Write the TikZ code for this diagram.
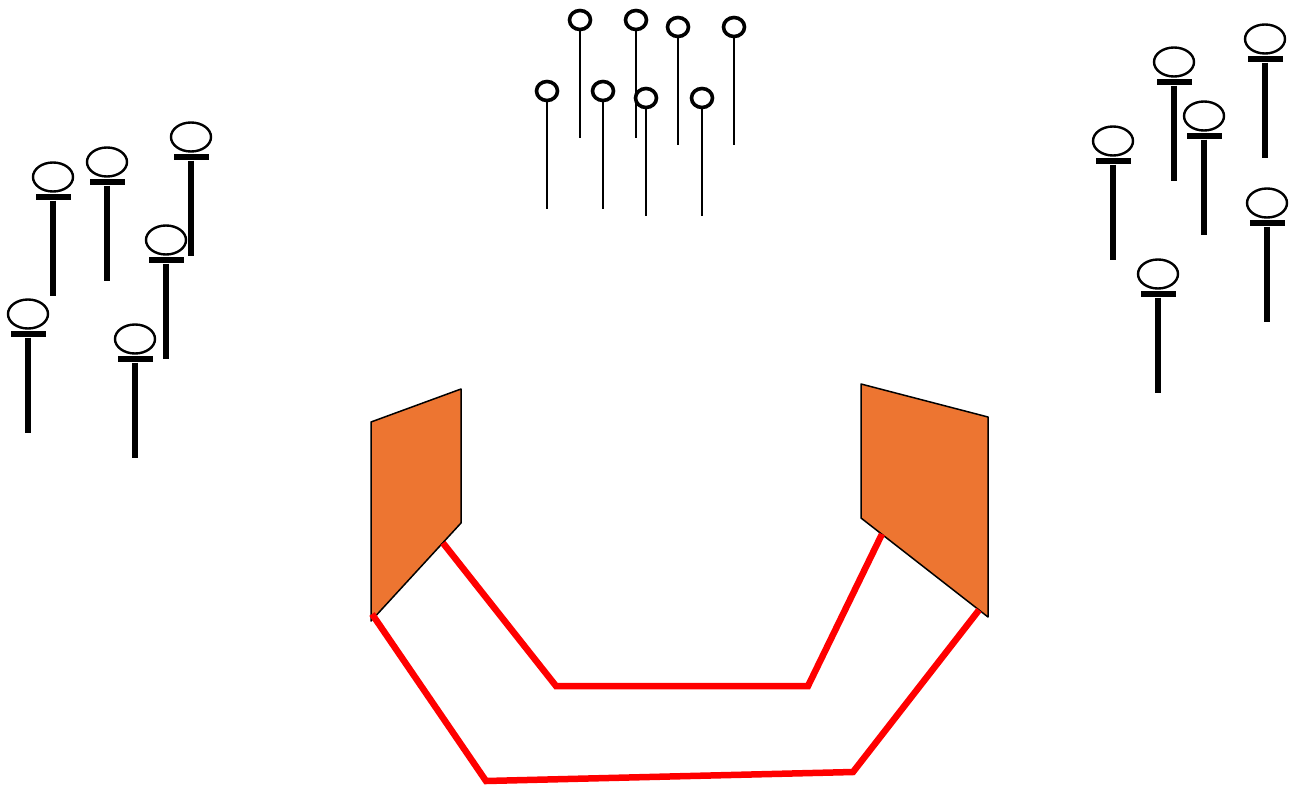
\documentclass[tikz,border=0pt]{standalone}
\usetikzlibrary{positioning,shapes.geometric}
\definecolor{wallorange}{RGB}{237,117,49}
\tikzset{
  pinhead/.style={ellipse,draw,fill=white,line width=2.4pt,minimum width=40pt,minimum height=29pt,inner sep=0pt},
  pinbar/.style={rectangle,fill=black,minimum width=35pt,minimum height=6.5pt,inner sep=0pt},
  pinstick/.style={line width=5.5pt},
  thinhead/.style={ellipse,draw,fill=white,line width=3.6pt,minimum width=21pt,minimum height=19pt,inner sep=0pt},
  thinstick/.style={line width=2.6pt},
  wall/.style={fill=wallorange,draw=black,line width=1.5pt,line join=round},
  track/.style={red,line width=6.5pt}
}
\begin{document}
\begin{tikzpicture}[x=1pt,y=-1pt]
  \useasboundingbox (0,0) rectangle (1297,789);
  % walls and track
  \coordinate (lq1) at (371,422);
  \coordinate (lq2) at (461,389);
  \coordinate (lq3) at (461,523);
  \coordinate (lq4) at (371,621);
  \coordinate (rq1) at (861,384);
  \coordinate (rq2) at (988,417);
  \coordinate (rq3) at (988,617);
  \coordinate (rq4) at (861,518);
  \path[wall] (lq1) -- (lq2) -- (lq3) -- (lq4) -- cycle;
  \path[wall] (rq1) -- (rq2) -- (rq3) -- (rq4) -- cycle;
  \coordinate (in0) at (443,543);
  \coordinate (in1) at (556,686);
  \coordinate (in2) at (808,686);
  \coordinate (in3) at (882,534);
  \coordinate (out0) at (372,614);
  \coordinate (out1) at (486,781);
  \coordinate (out2) at (853,772);
  \coordinate (out3) at (979,610);
  \draw[track] (in0) -- (in1) -- (in2) -- (in3);
  \draw[track] (out0) -- (out1) -- (out2) -- (out3);
  % left group
  \begin{scope}[every node/.style={pinhead}]
    \node (l1) at (53,177) {};
    \node (l2) at (107,162) {};
    \node (l3) at (191,137) {};
    \node (l4) at (166,240) {};
    \node (l5) at (28,314) {};
    \node (l6) at (135,339) {};
  \end{scope}
  % right group
  \begin{scope}[every node/.style={pinhead}]
    \node (r1) at (1174,62) {};
    \node (r2) at (1265,39) {};
    \node (r3) at (1204,116) {};
    \node (r4) at (1113,141) {};
    \node (r5) at (1267,203) {};
    \node (r6) at (1158,274) {};
  \end{scope}
  \begin{scope}[every node/.style={pinbar}]
    \node[below=1pt of l1] (l1b) {};
    \node[below=1pt of l2] (l2b) {};
    \node[below=1pt of l3] (l3b) {};
    \node[below=1pt of l4] (l4b) {};
    \node[below=1pt of l5] (l5b) {};
    \node[below=1pt of l6] (l6b) {};
    \node[below=1pt of r1] (r1b) {};
    \node[below=1pt of r2] (r2b) {};
    \node[below=1pt of r3] (r3b) {};
    \node[below=1pt of r4] (r4b) {};
    \node[below=1pt of r5] (r5b) {};
    \node[below=1pt of r6] (r6b) {};
  \end{scope}
  \begin{scope}[every path/.style={pinstick}]
    \draw (l1b.south) -- ++(0,95);
    \draw (l2b.south) -- ++(0,95);
    \draw (l3b.south) -- ++(0,95);
    \draw (l4b.south) -- ++(0,95);
    \draw (l5b.south) -- ++(0,95);
    \draw (l6b.south) -- ++(0,95);
    \draw (r1b.south) -- ++(0,95);
    \draw (r2b.south) -- ++(0,95);
    \draw (r3b.south) -- ++(0,95);
    \draw (r4b.south) -- ++(0,95);
    \draw (r5b.south) -- ++(0,95);
    \draw (r6b.south) -- ++(0,95);
  \end{scope}
  % top group
  \begin{scope}[every node/.style={thinhead}]
    \node (t1) at (580,20) {};
    \node (t2) at (636,20) {};
    \node (t3) at (678,27) {};
    \node (t4) at (734,27) {};
  \end{scope}
  \begin{scope}[every path/.style={thinstick}]
    \draw (t1.south) -- ++(0,107);
    \draw (t2.south) -- ++(0,107);
    \draw (t3.south) -- ++(0,107);
    \draw (t4.south) -- ++(0,107);
  \end{scope}
  \begin{scope}[every node/.style={thinhead}]
    \node (t5) at (547,91) {};
    \node (t6) at (603,91) {};
    \node (t7) at (646,98) {};
    \node (t8) at (702,98) {};
  \end{scope}
  \begin{scope}[every path/.style={thinstick}]
    \draw (t5.south) -- ++(0,107);
    \draw (t6.south) -- ++(0,107);
    \draw (t7.south) -- ++(0,107);
    \draw (t8.south) -- ++(0,107);
  \end{scope}
\end{tikzpicture}
\end{document}
